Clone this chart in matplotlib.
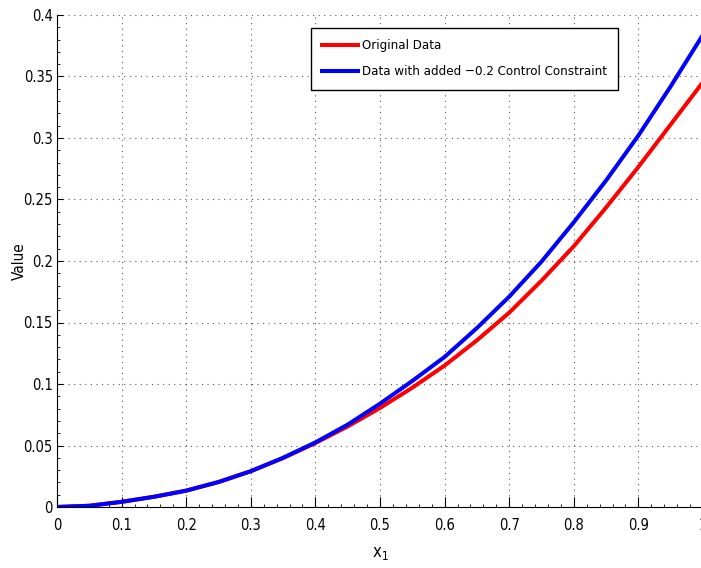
import numpy as np
import matplotlib
matplotlib.use("Agg")
from matplotlib import pyplot as plt
from matplotlib.ticker import MultipleLocator

# curve samples (x1 vs value)
x1 = [0.0, 0.05, 0.1, 0.15, 0.2, 0.25, 0.3, 0.35, 0.4, 0.45, 0.5,
      0.55, 0.6, 0.65, 0.7, 0.75, 0.8, 0.85, 0.9, 0.95, 1.0]
original = [0.0, 0.0010, 0.0042, 0.0083, 0.0133, 0.0203, 0.0291, 0.0398, 0.0520, 0.0655, 0.0805,
            0.0970, 0.1150, 0.1355, 0.1580, 0.1840, 0.2120, 0.2435, 0.2765, 0.3110, 0.3455]
constrained = [0.0, 0.0010, 0.0042, 0.0083, 0.0133, 0.0203, 0.0291, 0.0400, 0.0525, 0.0670, 0.0840,
               0.1025, 0.1220, 0.1455, 0.1710, 0.1995, 0.2315, 0.2655, 0.3020, 0.3420, 0.3840]

labels = ["Original Data", "Data with added \u22120.2 Control Constraint"]

plt.rcParams['font.family'] = ['DejaVu Sans Condensed', 'Liberation Sans Narrow', 'DejaVu Sans']
plt.rcParams['font.stretch'] = 'condensed'
plt.rcParams['mathtext.fontset'] = 'custom'
plt.rcParams['mathtext.rm'] = 'DejaVu Sans:stretch=condensed'
plt.rcParams['mathtext.it'] = 'DejaVu Sans:stretch=condensed'

W, H = 701, 568
fig = plt.figure(figsize=(W / 100, H / 100), dpi=100)
ax = fig.add_axes([57 / W, (H - 507) / H, 646 / W, 492 / H])

ax.plot(x1, original, color=(1, 0, 0), lw=2.9, label=labels[0])
ax.plot(x1, constrained, color=(0, 0, 1), lw=2.9, label=labels[1])

ax.set_xlim(0, 1)
ax.set_ylim(0, 0.4)
ax.xaxis.set_major_locator(MultipleLocator(0.1))
ax.xaxis.set_minor_locator(MultipleLocator(0.02))
ax.yaxis.set_major_locator(MultipleLocator(0.05))
ax.yaxis.set_minor_locator(MultipleLocator(0.01))
ax.set_xticklabels([f"{v:g}" for v in ax.get_xticks()])
ax.set_yticklabels([f"{v:g}" for v in ax.get_yticks()])

ax.tick_params(which='both', direction='in', top=False, right=False, labelsize=10.5)
ax.tick_params(axis='x', which='major', length=7, width=0.8, pad=8)
ax.tick_params(axis='x', which='minor', length=2.5, width=0.6)
ax.tick_params(axis='y', which='major', length=4, width=0.8, pad=3)
ax.tick_params(axis='y', which='minor', length=2, width=0.6)

ax.grid(True, which='major', linestyle=(0, (1, 4)), color='0.35', lw=0.8)
ax.spines['top'].set_visible(False)
ax.spines['right'].set_visible(False)
ax.spines['left'].set_linewidth(0.8)
ax.spines['bottom'].set_linewidth(0.8)

ax.set_ylabel("Value", fontsize=11)
ax.yaxis.set_label_coords(-0.047, 0.5)
ax.set_xlabel(r"$\mathregular{x_1}$", fontsize=12)
ax.xaxis.set_label_coords(0.5, -0.075)

leg = ax.legend(loc='upper left', bbox_to_anchor=(311 / W, 1 - 28 / H),
                bbox_transform=fig.transFigure, borderaxespad=0,
                fancybox=False, framealpha=1, edgecolor='black',
                fontsize=9.5, handlelength=2.7, handletextpad=0.3,
                labelspacing=1.0, borderpad=0.85)
leg.get_frame().set_linewidth(1.0)

fig.savefig("out.png", dpi=100)
